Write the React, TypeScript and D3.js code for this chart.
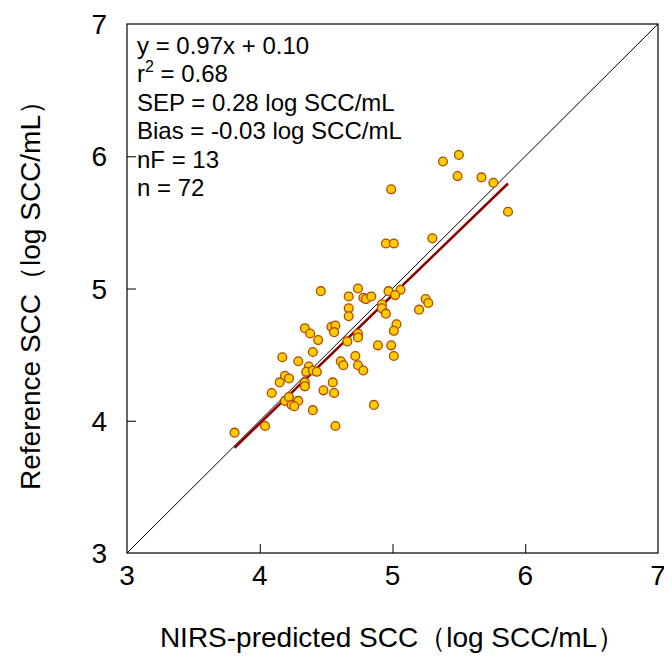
import React, { useRef, useEffect } from 'react';
import * as d3 from 'd3';

// NIRS-predicted vs reference SCC (log SCC/mL)
const predicted = [
  5.38, 5.5, 5.49, 5.67, 5.76, 5.87, 4.99, 4.95, 5.01, 5.3,
  4.46, 4.74, 4.67, 4.78, 4.8, 4.84, 4.97, 5.06, 5.02, 5.25,
  5.27, 5.2, 4.92, 4.92, 4.95, 4.67, 4.67, 4.34, 4.38, 4.54,
  4.57, 4.56, 4.44, 4.74, 4.74, 4.66, 5.03, 5.01, 4.89, 4.99,
  5.01, 4.4, 4.17, 4.29, 4.72, 4.61, 4.63, 4.74, 4.78, 4.37,
  4.35, 4.4, 4.43, 4.19, 4.22, 4.15, 4.34, 4.34, 4.55, 4.48,
  4.56, 4.09, 4.19, 4.22, 4.29, 4.24, 4.26, 4.4, 4.86, 4.04,
  4.57, 3.81,
];
const reference = [
  5.96, 6.01, 5.85, 5.84, 5.8, 5.58, 5.75, 5.34, 5.34, 5.38,
  4.98, 5.0, 4.94, 4.93, 4.92, 4.94, 4.98, 4.99, 4.95, 4.92,
  4.89, 4.84, 4.88, 4.85, 4.81, 4.85, 4.79, 4.7, 4.66, 4.71,
  4.72, 4.67, 4.61, 4.66, 4.63, 4.6, 4.73, 4.68, 4.57, 4.57,
  4.49, 4.52, 4.48, 4.45, 4.49, 4.45, 4.42, 4.42, 4.38, 4.41,
  4.37, 4.38, 4.37, 4.34, 4.32, 4.29, 4.29, 4.26, 4.29, 4.23,
  4.21, 4.21, 4.15, 4.18, 4.15, 4.12, 4.11, 4.08, 4.12, 3.96,
  3.96, 3.91,
];

const slope = 0.97;
const intercept = 0.1;
const axisTicks = [3, 4, 5, 6, 7];
const statLines = [
  'y = 0.97x + 0.10',
  'r2 = 0.68',
  'SEP = 0.28 log SCC/mL',
  'Bias = -0.03 log SCC/mL',
  'nF = 13',
  'n = 72',
];

const font = "'Liberation Sans', Arial, sans-serif";

export default function App() {
  const svgRef = useRef<SVGSVGElement>(null);

  useEffect(() => {
    const svg = d3.select(svgRef.current);
    svg.selectAll('*').remove();

    const width = 664;
    const height = 656;
    const margin = { top: 16, right: 14, bottom: 111, left: 119 };

    const x = d3.scaleLinear().domain([3, 7]).range([margin.left, width - margin.right]);
    const y = d3.scaleLinear().domain([3, 7]).range([height - margin.bottom, margin.top]);

    // frame
    svg.append('rect')
      .attr('x', x(3)).attr('y', y(7))
      .attr('width', x(7) - x(3)).attr('height', y(3) - y(7))
      .attr('fill', 'none').attr('stroke', '#000').attr('stroke-width', 1.2);

    // inward ticks
    svg.append('g')
      .attr('transform', `translate(0,${y(3)})`)
      .call(d3.axisTop(x).tickValues(axisTicks.slice(1, -1)).tickSize(9).tickFormat(() => ''))
      .call(g => g.select('.domain').remove());
    svg.append('g')
      .attr('transform', `translate(${x(3)},0)`)
      .call(d3.axisRight(y).tickValues(axisTicks.slice(1, -1)).tickSize(9).tickFormat(() => ''))
      .call(g => g.select('.domain').remove());

    // tick labels
    svg.append('g').selectAll('text').data(axisTicks).join('text')
      .attr('x', d => x(d)).attr('y', y(3) + 32)
      .attr('text-anchor', 'middle')
      .attr('font-family', font).attr('font-size', 28)
      .text(d => d);
    svg.append('g').selectAll('text').data(axisTicks).join('text')
      .attr('x', x(3) - 20).attr('y', d => y(d) + 10)
      .attr('text-anchor', 'end')
      .attr('font-family', font).attr('font-size', 28)
      .text(d => d);

    // axis titles
    svg.append('text')
      .attr('x', (x(3) + x(7)) / 2).attr('y', y(3) + 94)
      .attr('text-anchor', 'middle')
      .attr('font-family', font).attr('font-size', 28)
      .text('NIRS-predicted SCC（log SCC/mL）');
    svg.append('text')
      .attr('transform', `translate(${x(3) - 87},${(y(3) + y(7)) / 2}) rotate(-90)`)
      .attr('text-anchor', 'middle')
      .attr('font-family', font).attr('font-size', 28)
      .text('Reference SCC（log SCC/mL）');

    // 1:1 line
    svg.append('line')
      .attr('x1', x(3)).attr('y1', y(3)).attr('x2', x(7)).attr('y2', y(7))
      .attr('stroke', '#000').attr('stroke-width', 1);

    // regression line
    const xr = d3.extent(predicted) as [number, number];
    svg.append('line')
      .attr('x1', x(xr[0])).attr('y1', y(slope * xr[0] + intercept))
      .attr('x2', x(xr[1])).attr('y2', y(slope * xr[1] + intercept))
      .attr('stroke', '#8b0000').attr('stroke-width', 2.5);

    // points
    svg.append('g').selectAll('circle').data(predicted).join('circle')
      .attr('cx', d => x(d))
      .attr('cy', (_, i) => y(reference[i]))
      .attr('r', 4.4)
      .attr('fill', '#ffcc00')
      .attr('stroke', '#b34700')
      .attr('stroke-width', 1.3);

    // statistics
    const stats = svg.append('g')
      .attr('font-family', font).attr('font-size', 24);
    statLines.forEach((s, i) => {
      const t = stats.append('text').attr('x', x(3) + 10).attr('y', y(7) + 30 + i * 28.4);
      if (s.startsWith('r2')) {
        t.append('tspan').text('r');
        t.append('tspan').attr('font-size', 16).attr('dy', -10).text('2');
        t.append('tspan').attr('dy', 10).text(' = 0.68');
      } else {
        t.text(s);
      }
    });
  }, []);

  return <svg ref={svgRef} width={664} height={656} style={{ display: 'block', background: '#fff' }} />;
}
